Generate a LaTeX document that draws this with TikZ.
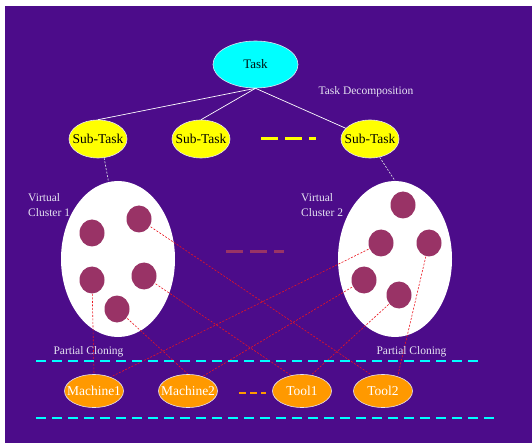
\documentclass[tikz,border=0pt]{standalone}
\usepackage{fontspec}
\setmainfont{Liberation Serif}
\usetikzlibrary{shapes.geometric}
\definecolor{bgpurple}{RGB}{76,12,138}
\definecolor{taskcyan}{RGB}{0,255,255}
\definecolor{subyellow}{RGB}{255,255,0}
\definecolor{resorange}{RGB}{255,153,0}
\definecolor{vmmauve}{RGB}{153,51,102}
\definecolor{labelwhite}{RGB}{230,228,242}
\definecolor{linkred}{RGB}{235,20,30}
\pgfdeclarelayer{base}
\pgfdeclarelayer{links}
\pgfsetlayers{base,links,main}
\tikzset{
  x=1pt, y=-1pt,
  bubble/.style={ellipse, inner sep=-40pt, draw=labelwhite, line width=0.6pt},
  tasknode/.style={bubble, fill=taskcyan, minimum width=85pt, minimum height=47pt,
    font=\fontsize{13}{15}\selectfont, text=black!85!teal},
  subnode/.style={bubble, fill=subyellow, minimum width=58pt, minimum height=38pt,
    font=\fontsize{13.5}{15}\selectfont, text=black},
  resnode/.style={bubble, fill=resorange, minimum width=59pt, minimum height=33pt,
    font=\fontsize{13.5}{15}\selectfont, text=white},
  cluster/.style={ellipse, fill=white, inner sep=-60pt, minimum width=114pt, minimum height=156pt},
  vm/.style={ellipse, fill=vmmauve, inner sep=-20pt, minimum width=25pt, minimum height=27pt},
  caption/.style={text=labelwhite, font=\fontsize{11.5}{15}\selectfont, inner sep=0pt},
  split/.style={draw=white, line width=0.7pt},
  assign/.style={draw=labelwhite!80!gray, line width=0.7pt, dash pattern=on 2pt off 1.5pt},
  clone/.style={draw=linkred, line width=0.6pt, dash pattern=on 2pt off 1.5pt},
  boundary/.style={draw=taskcyan, line width=2.6pt, dash pattern=on 10pt off 6pt},
  gap/.style={line width=3pt, dash pattern=on 17pt off 7pt},
}
\begin{document}
\begin{tikzpicture}
% page and backdrop
\begin{pgfonlayer}{base}
\fill[white] (0,0) rectangle (532,443);
\fill[bgpurple] (5,6) rectangle (532,443);
\end{pgfonlayer}
\useasboundingbox (0,0) rectangle (532,443);

% task and its decomposition
\node[tasknode] (task) at (255.5,64.5) {Task};
\node[subnode] (st1) at (98,139) {Sub-Task};
\node[subnode] (st2) at (201,139) {Sub-Task};
\node[subnode] (st3) at (370,139) {Sub-Task};
\draw[split] (task.south) -- (st1.north);
\draw[split] (task.south) -- (st2.north);
\draw[split] (task.south) -- (st3);
\node[caption] (decomp) at (366,92) {Task Decomposition};
\draw[gap, draw=subyellow] (261,139) -- (316,139);

% virtual clusters (kept under the cloning links)
\begin{pgfonlayer}{base}
\node[cluster] (cl1) at (118,259) {};
\node[cluster] (cl2) at (395,259) {};
\end{pgfonlayer}
\draw[assign] (st1.-72) -- (cl1.97);
\draw[assign] (st3.-62) -- (cl2.north);
\node[caption, align=left, anchor=north west] (vc1) at (28,193) {Virtual\\Cluster 1};
\node[caption, align=left, anchor=north west] (vc2) at (301,193) {Virtual\\Cluster 2};
\draw[gap, draw=vmmauve] (226,252) -- (284,252);

% virtual machines in each cluster
\node[vm] (a1) at (92,233) {};
\node[vm] (a2) at (139,219) {};
\node[vm] (a3) at (92,280) {};
\node[vm] (a4) at (144,276) {};
\node[vm] (a5) at (117,309) {};
\node[vm] (b1) at (403,205) {};
\node[vm] (b2) at (381,243) {};
\node[vm] (b3) at (429,243) {};
\node[vm] (b4) at (364,280) {};
\node[vm] (b5) at (399,295) {};

% physical resources
\node[resnode] (m1) at (94,391) {Machine1};
\node[resnode] (m2) at (188,391) {Machine2};
\node[resnode] (t1) at (302,391) {Tool1};
\node[resnode] (t2) at (383,391) {Tool2};
\draw[line width=2.2pt, draw=resorange, dash pattern=on 7pt off 4pt] (239,393) -- (266,393);

% partial cloning links, drawn beneath the machines
\begin{pgfonlayer}{links}
\draw[clone] (a3.center) -- (m1.north);
\draw[clone] (a2.center) -- (t2.125);
\draw[clone] (a4.center) -- (t1.125);
\draw[clone] (a5.center) -- (m2.north);
\draw[clone] (b2.center) -- (m1.40);
\draw[clone] (b4.center) -- (m2.45);
\draw[clone] (b5.center) -- (t1.60);
\draw[clone] (b3.center) -- (t2.45);
\end{pgfonlayer}

\node[caption] (pc1) at (88.5,352) {Partial Cloning};
\node[caption] (pc2) at (411.5,352) {Partial Cloning};
\draw[boundary] (36,361) -- (482,361);
\draw[boundary] (36,418) -- (495,418);
\end{tikzpicture}
\end{document}
